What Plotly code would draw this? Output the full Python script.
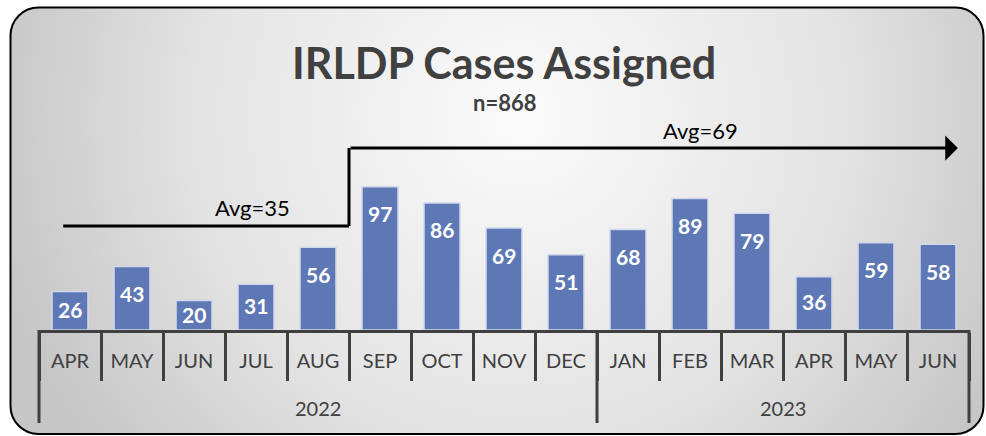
import base64
import plotly.graph_objects as go

# data
years = ['2022', '2023']
year_months = [9, 6]  # number of months shown in each year
months = ['APR', 'MAY', 'JUN', 'JUL', 'AUG', 'SEP', 'OCT', 'NOV', 'DEC',
          'JAN', 'FEB', 'MAR', 'APR', 'MAY', 'JUN']
cases = [26, 43, 20, 31, 56, 97, 86, 69, 51, 68, 89, 79, 36, 59, 58]
split = 5  # first five months vs the rest
title = 'IRLDP Cases Assigned'

total = sum(cases)
avg_before = round(sum(cases[:split]) / split)
avg_after = round(sum(cases[split:]) / (len(cases) - split))
idx = list(range(len(months)))

# layout constants (px)
W, H = 986, 436
L, R, T, B = 39, 17, 138, 106
PW, PH = W - L - R, H - T - B
YMAX = 130
FONT = 'Lato'
DARK = '#404040'
BAR = '#5E78B6'

LOW_Y, HIGH_Y = 70.4, 123.2       # heights of the step line (data units)
LINE_X0, STEP_X, TIP_X = -0.11, 4.5, 14.32


def xp(i):
    # category index -> paper x
    return (i + 0.5) / len(months)


def yp(px):
    # page pixel y -> paper y
    return (H - B - px) / PH


def label(x, y, text, size, color=DARK):
    fig.add_annotation(xref='paper', yref='paper', x=x, y=y, text=text,
                       showarrow=False, xanchor='center', yanchor='middle',
                       font=dict(family=FONT, size=size, color=color))


bg_svg = f'''<svg xmlns="http://www.w3.org/2000/svg" width="{W}" height="{H}" viewBox="0 0 {W} {H}">
<defs><radialGradient id="g" gradientUnits="userSpaceOnUse" cx="520" cy="115" r="540">
<stop offset="0" stop-color="#fbfbfb"/><stop offset="0.6" stop-color="#e3e3e3"/>
<stop offset="1" stop-color="#c6c6c6"/></radialGradient></defs>
<rect x="10.5" y="7.5" width="973" height="426.5" rx="28" ry="28" fill="url(#g)" stroke="#000" stroke-width="2"/>
</svg>'''
bg_uri = 'data:image/svg+xml;base64,' + base64.b64encode(bg_svg.encode()).decode()

fig = go.Figure()
fig.add_trace(go.Bar(
    x=idx, y=cases,
    marker=dict(color=BAR, line=dict(color='#d0d8ec', width=1.5)),
    hoverinfo='skip',
))

# value labels, inside the top of each bar
px_per_unit = PH / YMAX
for i, v in zip(idx, cases):
    fig.add_annotation(x=i, y=v, xref='x', yref='y', text=f'<b>{v}</b>',
                       showarrow=False, yanchor='middle',
                       yshift=-min(27, 0.47 * v * px_per_unit),
                       font=dict(family=FONT, size=21, color='white'))

# step line showing the two averages
line = dict(color='black', width=3)
fig.add_shape(type='line', xref='paper', yref='y',
              x0=xp(LINE_X0), x1=xp(STEP_X), y0=LOW_Y, y1=LOW_Y, line=line)
fig.add_shape(type='line', xref='paper', yref='y',
              x0=xp(STEP_X), x1=xp(STEP_X), y0=LOW_Y, y1=HIGH_Y, line=line)
fig.add_annotation(xref='paper', yref='y', x=xp(TIP_X), y=HIGH_Y,
                   ax=-(TIP_X - STEP_X) * PW / len(months), ay=0,
                   showarrow=True, arrowhead=1, arrowsize=1.4, arrowwidth=3,
                   arrowcolor='black', text='')

label((252 - L) / PW, yp(207), f'Avg={avg_before}', 22, 'black')
label((700 - L) / PW, yp(130), f'Avg={avg_after}', 22, 'black')
label(0.5, yp(62), f'<b>{title}</b>', 43)
label(0.5, yp(102), f'<b>n={total}</b>', 22)

# year group labels and separators
start = 0
for yr, n in zip(years, year_months):
    label(xp(start + (n - 1) / 2), yp(408), yr, 20)
    start += n
bounds = [-0.5]
for n in year_months:
    bounds.append(bounds[-1] + n)
for b in bounds:
    fig.add_shape(type='line', xref='paper', yref='paper',
                  x0=xp(b), x1=xp(b), y0=0, y1=yp(423),
                  line=dict(color=DARK, width=3))

fig.add_layout_image(dict(
    source=bg_uri, xref='paper', yref='paper',
    x=-L / PW, y=1 + T / PH, sizex=W / PW, sizey=H / PH,
    xanchor='left', yanchor='top', sizing='stretch', layer='below',
))

fig.update_layout(
    width=W, height=H,
    margin=dict(l=L, r=R, t=T, b=B, autoexpand=False),
    paper_bgcolor='white',
    plot_bgcolor='rgba(0,0,0,0)',
    bargap=0.42,
    showlegend=False,
    font=dict(family=FONT, color=DARK),
    xaxis=dict(
        range=[-0.5, len(months) - 0.5],
        tickmode='array', tickvals=idx, ticktext=months,
        showline=True, linecolor=DARK, linewidth=3,
        ticks='', ticklabelstandoff=11,
        minor=dict(tickmode='linear', tick0=-0.5, dtick=1, ticks='outside',
                   ticklen=48, tickwidth=3, tickcolor=DARK, showgrid=False),
        tickfont=dict(family=FONT, size=20, color=DARK),
        showgrid=False, zeroline=False, automargin=False,
    ),
    yaxis=dict(range=[0, YMAX], visible=False, showgrid=False, zeroline=False,
               automargin=False),
)

fig.write_html('out.html', config={'displayModeBar': False},
               post_script="document.body.style.margin='0';")
